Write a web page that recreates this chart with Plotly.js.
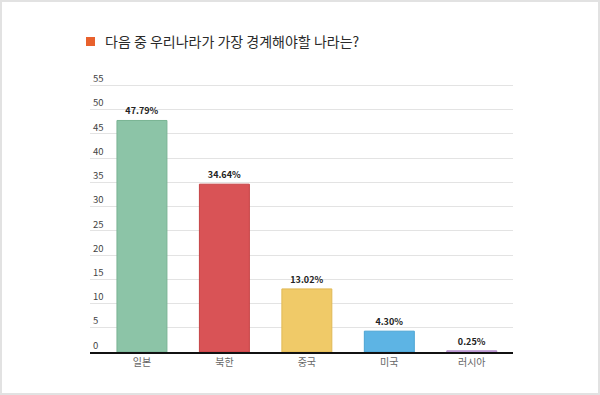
<!DOCTYPE html>
<html>
<head>
<meta charset="utf-8">
<script src="https://cdn.plot.ly/plotly-3.0.1.min.js"></script>
<style>
html,body{margin:0;padding:0;background:#fff;}
#wrap{position:relative;width:600px;height:395px;}
#chart{width:600px;height:395px;}
#frame{position:absolute;left:0;top:0;width:600px;height:395px;box-sizing:border-box;border:2px solid #e2e2e2;pointer-events:none;}
</style>
</head>
<body>
<div id="wrap"><div id="chart"></div><div id="frame"></div></div>
<script>
const categories = ["일본", "북한", "중국", "미국", "러시아"];
const values = [47.79, 34.64, 13.02, 4.30, 0.25];
const valueLabels = ["47.79%", "34.64%", "13.02%", "4.30%", "0.25%"];
const barColors = ["#8cc4a7", "#d95356", "#f0ca68", "#5db4e4", "#c7a3dd"];
const barEdges = ["#79b394", "#c54245", "#e0b955", "#4aa3d3", "#b48fcb"];
const yTicks = [0, 5, 10, 15, 20, 25, 30, 35, 40, 45, 50, 55];
const titleText = "다음 중 우리나라가 가장 경계해야할 나라는?";

const font = "'Noto Sans CJK KR', 'Noto Sans', sans-serif";

const plotW = 423, plotH = 281;

const trace = {
  type: "bar",
  x: categories,
  y: values,
  text: valueLabels,
  textposition: "outside",
  cliponaxis: false,
  textfont: {family: font, size: 9, color: "#222", weight: "bold"},
  marker: {color: barColors, line: {color: barEdges, width: 1}},
  hoverinfo: "none"
};

const layout = {
  width: 600, height: 395,
  margin: {l: 90, r: 87, t: 71, b: 43},
  paper_bgcolor: "#fff",
  plot_bgcolor: "#fff",
  showlegend: false,
  bargap: 0.394,
  font: {family: font},
  xaxis: {
    type: "category",
    range: [-0.63, 4.5],
    showgrid: false,
    showline: true,
    linecolor: "#111",
    linewidth: 1.5,
    ticks: "",
    tickfont: {family: font, size: 10, color: "#666"},
    fixedrange: true
  },
  yaxis: {
    range: [0, 58],
    tickvals: yTicks,
    ticktext: yTicks.map(String),
    ticklabelposition: "inside top",
    showgrid: true,
    gridcolor: "#e3e3e3",
    gridwidth: 1,
    zeroline: false,
    showline: false,
    ticks: "",
    tickfont: {family: font, size: 9.5, color: "#444"},
    fixedrange: true
  },
  shapes: [{
    type: "rect", xref: "paper", yref: "paper",
    x0: -4/plotW, x1: 5/plotW, y0: 1 + 25/plotH, y1: 1 + 34/plotH,
    fillcolor: "#e8612d", line: {width: 0}
  }],
  annotations: [{
    text: titleText,
    xref: "paper", yref: "paper",
    x: 13/plotW, y: 1 + 29.5/plotH,
    xanchor: "left", yanchor: "middle",
    showarrow: false,
    font: {family: font, size: 14, color: "#2a2a2a"}
  }]
};

Plotly.newPlot("chart", [trace], layout, {displayModeBar: false, staticPlot: true});
</script>
</body>
</html>
